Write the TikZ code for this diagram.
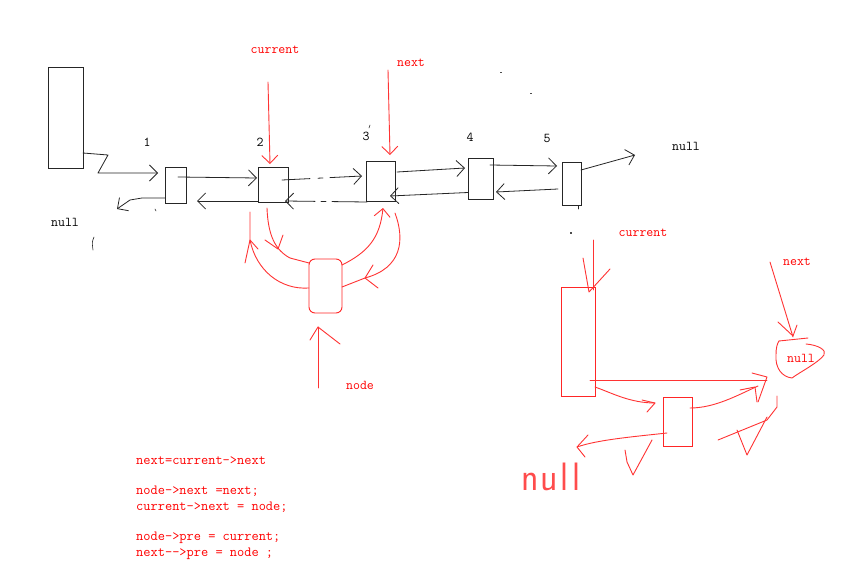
\documentclass[tikz,border=0pt]{standalone}
\usepackage{fontspec}
\usetikzlibrary{arrows.meta,calc}
\begin{document}
\begin{tikzpicture}[x=1pt,y=-1pt,
  bx/.style={draw=black!85,line width=0.8pt,inner sep=0pt,outer sep=0pt,rectangle},
  rbx/.style={draw=red!85,line width=0.9pt,inner sep=0pt,outer sep=0pt,rectangle},
  bl/.style={draw=black!85,line width=0.8pt,line join=round,line cap=round},
  rl/.style={draw=red!80,line width=0.9pt,line join=round,line cap=round},
  tipb/.style={-{Straight Barb[length=8pt,width=16pt]}},
  lbl/.style={font=\ttfamily\fontsize{13.5}{15}\selectfont,inner sep=0pt},
  rlbl/.style={lbl,text=red},
  code/.style={font=\ttfamily\fontsize{14}{15}\selectfont,inner sep=0pt,text=red,anchor=west},
]
\useasboundingbox (0,0) rectangle (846,578);
\fill[white] (0,0) rectangle (846,578);

% ---------- top list boxes ----------
\node[bx,minimum width=35pt,minimum height=101pt] (big) at (65.5,117.5) {};
\node[bx,minimum width=21pt,minimum height=36pt] (n1) at (175.5,185) {};
\node[bx,minimum width=30pt,minimum height=35pt] (n2) at (273,184.5) {};
\node[bx,minimum width=29pt,minimum height=40pt] (n3) at (380.5,181) {};
\node[bx,minimum width=25pt,minimum height=41pt] (n4) at (480.5,178.5) {};
\node[bx,minimum width=19pt,minimum height=43pt] (n5) at (571.5,183.5) {};

\node[lbl] (l1) at (147,142) {1};
\node[lbl] (l2) at (260,142) {2};
\node[lbl] (l3) at (366,136) {3};
\node[lbl] (l4) at (470,137) {4};
\node[lbl] (l5) at (547,138) {5};
\node[lbl] (nullR) at (686,146) {null};
\node[lbl] (nullL) at (65,222) {null};

% ---------- black connectors ----------
\draw[bl,tipb] ([yshift=15pt]big.south east) -- (108,155) -- (98,173) -- ([xshift=-7pt,yshift=12pt]n1.west);
\draw[bl,tipb] ([xshift=-8pt,yshift=8pt]n1.east) -- ([xshift=-1pt,yshift=6.5pt]n2.west);
\draw[bl,tipb] ([yshift=-16.5pt]n2.west) -- ([xshift=11pt,yshift=-16pt]n1.east);
\coordinate (nl) at (117,209);
\draw[bl,tipb] ([yshift=-13pt]n1.west) -- (142,198) -- (130,200) -- (nl);
\draw[bl,tipb,dash pattern=on 28pt off 8pt on 5pt off 7pt on 40pt] ([xshift=-6pt,yshift=4.5pt]n2.east) -- ([xshift=-4pt,yshift=5pt]n3.west);
\draw[bl,tipb,dash pattern=on 35pt off 6pt on 5pt off 6pt on 40pt] ([xshift=1pt,yshift=-21pt]n3.west) -- ([xshift=-3pt,yshift=-16.5pt]n2.east);
\draw[bl,tipb] ([xshift=2pt,yshift=9pt]n3.east) -- ([xshift=-3pt,yshift=10.5pt]n4.west);
\draw[bl,tipb] ([yshift=-14pt]n4.west) -- ([xshift=-5pt,yshift=-15pt]n3.east);
\draw[bl,tipb] ([xshift=-3pt,yshift=13.5pt]n4.east) -- ([xshift=-5pt,yshift=17.5pt]n5.west);
\draw[bl,tipb] ([xshift=-4pt,yshift=-5.5pt]n5.west) -- ([xshift=3pt,yshift=-13.5pt]n4.east);
\coordinate (nr) at (635,155);
\draw[bl,tipb] ([yshift=13.5pt]n5.east) -- (nr);

% small stray marks
\draw[bl,line width=0.6pt] (155,209) -- (156,211);
\draw[bl,line width=0.6pt] (94,237) .. controls (92,242) .. (93,250);
\draw[bl,line width=0.6pt] (370,125) -- (369,128);
\draw[bl,line width=0.6pt] (578,206) -- (578,209);
\fill[black!70] (500,72) rectangle (501.5,73.5);
\fill[black!70] (530,93) rectangle (532,94);
\fill[black!70] (570,232) rectangle (571.5,233.5);

% ---------- red labels top ----------
\node[rlbl] (cur1) at (275,50) {current};
\node[rlbl] (nx1) at (411,63) {next};
\node[rlbl] (ndl) at (360,385) {node};

\coordinate (c1s) at (268,82);
\draw[rl,tipb] (c1s) -- ([xshift=-3pt,yshift=3pt]n2.north);
\coordinate (x1s) at (388,70);
\draw[rl,tipb] (x1s) -- ([xshift=9.5pt,yshift=6pt]n3.north);

% inserted node
\node[rbx,rounded corners=6pt,minimum width=33pt,minimum height=54pt] (nd) at (325.5,286) {};

% node->pre = current
\draw[rl] ([yshift=-2pt]nd.west) .. controls (280,290) and (256,270) .. (250,240) -- (250,212);
\draw[rl] (245,263) -- (250,240) -- (258,249);
% current->next = node
\draw[rl] ([xshift=-6pt,yshift=-6pt]n2.south) .. controls (268,235) and (275,250) .. (290,258) -- ([yshift=23pt]nd.west);
\draw[rl] (265,240) -- (278,249) -- (283,235);
% node->next = next
\draw[rl,tipb] ([yshift=21pt]nd.east) .. controls (368,252) and (380,238) .. ([xshift=2.5pt,yshift=-7pt]n3.south);
% next->pre = node
\draw[rl] ([xshift=14.5pt,yshift=-12pt]n3.south) .. controls (405,240) and (402,268) .. (365,278) -- ([yshift=-1pt]nd.east);
\draw[rl] (373,265) -- (365,278) -- (378,288);
% node pointer
\coordinate (ns) at (318,388);
\draw[rl] (ns) -- ([xshift=-7.5pt,yshift=-14pt]nd.south);
\draw[rl] (310,340) -- (318,327) -- (340,344);

% ---------- bottom right ----------
\node[rlbl] (cur2) at (643,233) {current};
\node[rlbl] (nx2) at (797,262) {next};
\node[rbx,minimum width=34pt,minimum height=109pt] (rc) at (578,341.5) {};
\node[rbx,minimum width=29pt,minimum height=49pt] (sm) at (677.5,421.5) {};
\node[rlbl] (nullB) at (801,358) {null};
\node[text=red!70,font=\sffamily\fontsize{36}{40}\selectfont,inner sep=0pt,yscale=1.1] (nullH) at (551,477) {n\hspace{2pt}u\hspace{3pt}l\hspace{4pt}l};

\coordinate (c2s) at (593,240);
\draw[rl] (c2s) -- ([xshift=15pt,yshift=-3pt]rc.north);
\draw[rl] (583,258) -- (589,292) -- (610,269);

% blob around null
\draw[rl] (779,341) -- (808,338);
\draw[rl] (806,344) .. controls (818,345) and (827,350) .. (824,355) .. controls (818,363) and (800,372) .. (792,378) .. controls (782,377) and (775,368) .. (776,355) .. controls (776,348) and (777,344) .. (779,341);

% next pointer bottom
\coordinate (x2s) at (770,262);
\draw[rl] (x2s) -- (793,337);
\draw[rl] (778,322) -- (793,336) -- (797,325);

% rc -> null long line
\draw[rl] ([xshift=-5pt,yshift=16pt]rc.south east) -- (767,380);
\draw[rl] (752,373) -- (767,377) -- (758,402);
% rc -> sm
\draw[rl] ([yshift=9pt]rc.south east) .. controls (612,393) and (630,403) .. ([xshift=-8pt,yshift=-6pt]sm.north west);
\draw[rl] (642,400) -- (655,403) -- (647,412);
% sm -> right
\draw[rl] ([xshift=-2pt,yshift=13.5pt]sm.east) .. controls (715,408) and (738,395) .. (758,386);
\draw[rl] (740,390) -- (755,387) -- (757,402);
% sm -> handwritten null
\draw[rl] ([xshift=4pt,yshift=-11.5pt]sm.west) .. controls (630,437) and (597,440) .. (577,447);
\draw[rl] (588,435) -- (577,447) -- (585,457);
% crossed-out marks
\draw[rl] (625,450) -- (627,462) -- (633,475) -- (652,440);
\draw[rl] (718,440) -- (767,420) -- (777,407) -- (777,396);
\draw[rl] (737,430) -- (747,455) -- (767,417);

% ---------- code ----------
\node[code] (k1) at (136,461) {next=current->next};
\node[code] (k2) at (136,491) {node->next =next;};
\node[code] (k3) at (136,507) {current->next = node;};
\node[code] (k4) at (136,538) {node->pre = current;};
\node[code] (k5) at (136,554) {next-{}->pre = node ;};
\end{tikzpicture}
\end{document}
